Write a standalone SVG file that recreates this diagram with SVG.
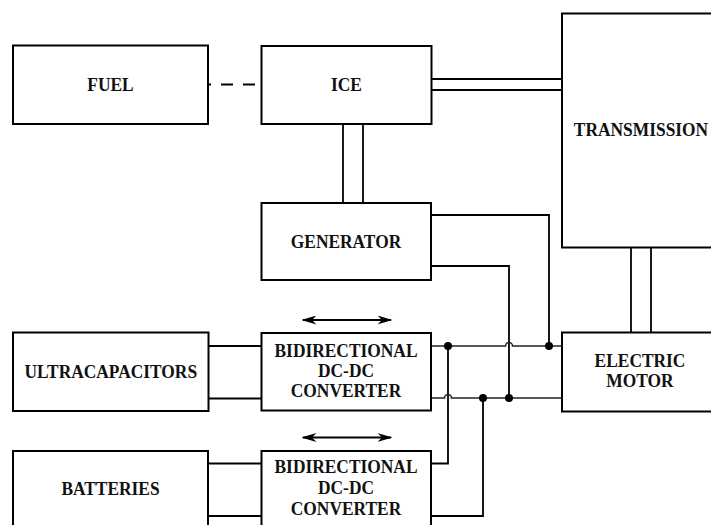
<svg xmlns="http://www.w3.org/2000/svg" width="711" height="525" viewBox="0 0 711 525">
<style>
.box{fill:#fff;stroke:#000;stroke-width:2}
.t{font-family:'Liberation Serif','Times New Roman',Times,serif;font-weight:700;font-size:17.4px;text-anchor:middle;fill:#111}
.w{fill:none;stroke:#000;stroke-width:1.8}
.bus{fill:none;stroke:#222;stroke-width:1.5}
.dot{fill:#000}
</style>
<defs>
<marker id="ah" viewBox="0 0 10 10" refX="9" refY="5" markerWidth="15" markerHeight="9" markerUnits="userSpaceOnUse" orient="auto-start-reverse" preserveAspectRatio="none">
<path d="M0,0 L10,5 L0,10 L3,5 Z" fill="#000"/>
</marker>
</defs>
<rect width="711" height="525" fill="#fff"/>
<g id="connectors">
<line class="w" x1="208" y1="84.5" x2="261" y2="84.5" stroke-dasharray="12,10" stroke-dashoffset="9"/>
<line class="w" x1="432" y1="79" x2="562" y2="79"/>
<line class="w" x1="432" y1="90" x2="562" y2="90"/>
<line class="w" x1="343" y1="124" x2="343" y2="203"/>
<line class="w" x1="363" y1="124" x2="363" y2="203"/>
<line class="w" x1="631" y1="247" x2="631" y2="332"/>
<line class="w" x1="651" y1="247" x2="651" y2="332"/>
<polyline class="w" points="431,215 549,215 549,346"/>
<polyline class="w" points="431,266 509,266 509,398"/>
<line class="w" x1="208" y1="346" x2="262" y2="346"/>
<line class="w" x1="208" y1="398.5" x2="262" y2="398.5"/>
<line class="w" x1="208" y1="463.5" x2="262" y2="463.5"/>
<line class="w" x1="208" y1="516" x2="262" y2="516"/>
<polyline class="w" points="431,463.5 448,463.5 448,346"/>
<polyline class="w" points="431,516 483,516 483,398"/>
<path class="bus" d="M431,346 H505.5 A3.5,3.5 0 0 1 512.5,346 H562"/>
<path class="bus" d="M431,398 H444.5 A3.5,3.5 0 0 1 451.5,398 H562"/>
<circle class="dot" cx="448" cy="346" r="4"/>
<circle class="dot" cx="549" cy="346" r="4"/>
<circle class="dot" cx="483" cy="398" r="4"/>
<circle class="dot" cx="509" cy="398" r="4"/>
<line class="w" x1="303" y1="320" x2="391" y2="320" marker-start="url(#ah)" marker-end="url(#ah)"/>
<line class="w" x1="303" y1="437.5" x2="391" y2="437.5" marker-start="url(#ah)" marker-end="url(#ah)"/>
</g>
<g id="fuel">
<rect class="box" x="13" y="45.5" width="195" height="78.5"/>
<text class="t" font-family="Liberation Serif, serif" transform="translate(110.5 91) scale(1 1.13)">FUEL</text>
</g>
<g id="ice">
<rect class="box" x="261.5" y="46" width="170" height="78"/>
<text class="t" transform="translate(346.5 91) scale(1 1.13)">ICE</text>
</g>
<g id="transmission">
<rect class="box" x="562" y="13.5" width="170" height="234"/>
<text class="t" transform="translate(641 135.5) scale(1 1.13)">TRANSMISSION</text>
</g>
<g id="generator">
<rect class="box" x="261.5" y="203" width="169.5" height="77"/>
<text class="t" transform="translate(346 247.5) scale(1 1.13)">GENERATOR</text>
</g>
<g id="ultracapacitors">
<rect class="box" x="13" y="332.5" width="195.5" height="78.5"/>
<text class="t" transform="translate(110.8 378) scale(1 1.13)">ULTRACAPACITORS</text>
</g>
<g id="converter1">
<rect class="box" x="261.5" y="333" width="169.5" height="77.5"/>
<text class="t" transform="translate(346 356.7) scale(1 1.13)">BIDIRECTIONAL</text>
<text class="t" transform="translate(346 377) scale(1 1.13)">DC-DC</text>
<text class="t" transform="translate(346 397.3) scale(1 1.13)">CONVERTER</text>
</g>
<g id="electric-motor">
<rect class="box" x="562" y="332.5" width="170" height="79"/>
<text class="t" transform="translate(640 366.7) scale(1 1.13)">ELECTRIC</text>
<text class="t" transform="translate(640 387.3) scale(1 1.13)">MOTOR</text>
</g>
<g id="batteries">
<rect class="box" x="13" y="451" width="195" height="80"/>
<text class="t" transform="translate(110.5 495) scale(1 1.13)">BATTERIES</text>
</g>
<g id="converter2">
<rect class="box" x="261.5" y="451" width="169.5" height="80"/>
<text class="t" transform="translate(346 473.3) scale(1 1.13)">BIDIRECTIONAL</text>
<text class="t" transform="translate(346 494) scale(1 1.13)">DC-DC</text>
<text class="t" transform="translate(346 515) scale(1 1.13)">CONVERTER</text>
</g>
</svg>
